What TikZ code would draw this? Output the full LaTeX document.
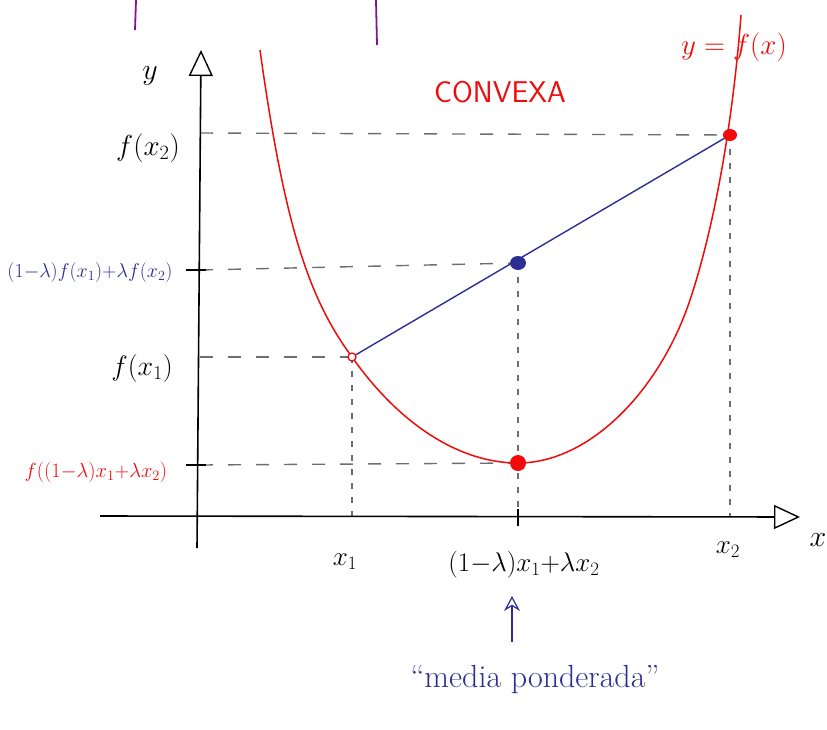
\RequirePackage{fix-cm}
\documentclass[tikz,border=0pt]{standalone}
\usepackage{fontspec}
\usetikzlibrary{arrows.meta}
\definecolor{hred}{RGB}{240,10,10}
\definecolor{hblue}{RGB}{45,45,150}
\definecolor{hpurple}{RGB}{130,20,140}
\definecolor{hgray}{RGB}{110,110,110}
\tikzset{
  axis/.style={line width=1.6pt, black, -{Triangle[open,length=26pt,width=24pt,line width=1.4pt]}},
  hdash/.style={hgray, line width=1.4pt, dash pattern=on 13pt off 15pt},
  vdash/.style={hgray, line width=1.1pt, dash pattern=on 6pt off 8pt},
  tickmark/.style={line width=2.4pt, black},
  lbl/.style={inner sep=0pt},
}
\begin{document}
\begin{tikzpicture}[x=1pt,y=-1pt]
\useasboundingbox (0,0) rectangle (827,729);
% purple marks at top
\draw[hpurple, line width=1.8pt] (136,0) -- (135,30);
\draw[hpurple, line width=1.8pt] (376,0) -- (377,45);
% coordinates
\coordinate (ybot) at (197,548);
\coordinate (ytop) at (201,50);
\coordinate (xleft) at (100,516);
\coordinate (xright) at (800,517);
\coordinate (P1) at (352,357);
\coordinate (P2) at (730,135);
\coordinate (Q) at (518,263);
\coordinate (R) at (518,463);
\coordinate (X1) at (352,516);
\coordinate (XM) at (518,516);
\coordinate (X2) at (730,516);
\coordinate (Y2) at (200,133);
\coordinate (YQ) at (200,270);
\coordinate (Y1) at (200,357);
\coordinate (YR) at (200,465);
% dashed guides
\draw[hdash] (Y2) -- (P2);
\draw[hdash] (YQ) -- (Q);
\draw[hdash] (Y1) -- (P1);
\draw[hdash] (YR) -- (R);
\draw[vdash] (P1) -- (X1);
\draw[vdash] (Q) -- (XM);
\draw[vdash] (P2) -- (X2);
% axes
\draw[axis] (ybot) -- (ytop);
\draw[axis] (xleft) -- (xright);
% ticks
\draw[tickmark] (186,270) -- (206,270);
\draw[tickmark] (186,465) -- (206,465);
\draw[tickmark] (518,509) -- (518,526);
% curve
\draw[hred, line width=1.5pt] (260,50) .. controls (285,230) and (310,300) .. (P1)
  .. controls (400,425) and (460,463) .. (R)
  .. controls (590,463) and (660,390) .. (690,300)
  .. controls (715,225) and (733,120) .. (741,15);
% chord
\draw[hblue, line width=1.4pt] (P1) -- (P2);
% points
\fill[hred] (P2) ellipse (7pt and 6pt);
\fill[hblue] (Q) ellipse (8pt and 7pt);
\fill[hred] (R) circle (8pt);
\draw[hred, line width=1.3pt, fill=white] (P1) circle (4pt);
% labels
\node[lbl] (ylab) at (150,76) {\fontsize{30}{32}\selectfont $y$};
\node[lbl] (xlab) at (818,540) {\fontsize{30}{32}\selectfont $x$};
\node[lbl] (lfx2) at (148,148) {\fontsize{29}{31}\selectfont $f(x_2)$};
\node[lbl, text=hblue] (lmix) at (90,272) {\fontsize{20}{22}\selectfont $(1{-}\lambda)f(x_1){+}\lambda f(x_2)$};
\node[lbl] (lfx1) at (142,368) {\fontsize{28}{30}\selectfont $f(x_1)$};
\node[lbl, text=hred] (lfmix) at (96,472) {\fontsize{20.5}{22}\selectfont $f((1{-}\lambda)x_1{+}\lambda x_2)$};
\node[lbl] (lx1) at (345,562) {\fontsize{27}{29}\selectfont $x_1$};
\node[lbl] (lxm) at (524,565) {\fontsize{27}{29}\selectfont $(1{-}\lambda)x_1{+}\lambda x_2$};
\node[lbl] (lx2) at (728,550) {\fontsize{27}{29}\selectfont $x_2$};
\node[lbl, text=hred] (conv) at (500,92) {\sffamily\fontsize{30}{32}\selectfont\addfontfeature{LetterSpace=20}CONVEXA};
\node[lbl, text=hred] (yfx) at (734,47) {\fontsize{29}{31}\selectfont $y=f(x)$};
\node[lbl, text=hblue] (media) at (535,680) {\fontsize{32}{34}\selectfont ``media ponderada''};
\draw[hblue, line width=1.4pt, -{Stealth[open,length=15pt,width=16pt,line width=1.2pt]}] (512,642) -- (512,596);
\end{tikzpicture}
\end{document}
